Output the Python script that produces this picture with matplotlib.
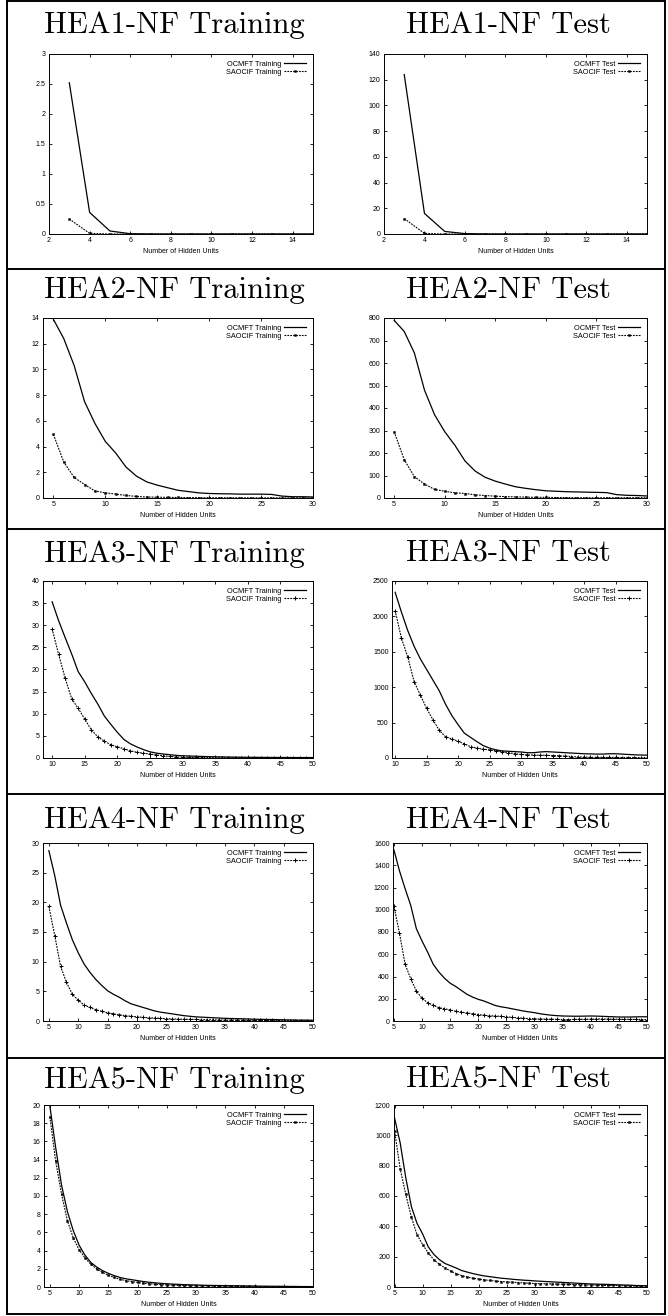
import matplotlib
matplotlib.use("Agg")
import matplotlib.pyplot as plt
from matplotlib.lines import Line2D
from matplotlib.ticker import FormatStrFormatter, MultipleLocator

W, H = 668, 1316

# ---- data ----
x1 = list(range(3, 16))
h1_train_ocmft = [2.52, 0.36, 0.05, 0.005, 0, 0, 0, 0, 0, 0, 0, 0, 0]
h1_train_saocif = [0.25, 0.01, 0, 0, 0, 0, 0, 0, 0, 0, 0, 0, 0]
h1_test_ocmft = [124, 16, 2, 0.3, 0, 0, 0, 0, 0, 0, 0, 0, 0]
h1_test_saocif = [12, 0.5, 0, 0, 0, 0, 0, 0, 0, 0, 0, 0, 0]

x2 = list(range(5, 31))
h2_train_ocmft = [13.9, 12.4, 10.3, 7.5, 5.8, 4.4, 3.5, 2.4, 1.7, 1.25, 1.0, 0.8, 0.6,
                  0.5, 0.4, 0.35, 0.33, 0.32, 0.3, 0.3, 0.3, 0.28, 0.15, 0.1, 0.1, 0.08]
h2_train_saocif = [4.95, 2.8, 1.6, 1.05, 0.55, 0.4, 0.3, 0.2, 0.12, 0.08, 0.06, 0.05, 0.04,
                   0.03, 0.03, 0.02, 0.02, 0.02, 0.02, 0.01, 0.01, 0.01, 0.01, 0.01, 0.01, 0.01]
h2_test_ocmft = [790, 740, 645, 480, 370, 295, 235, 165, 120, 92, 75, 62, 50,
                 43, 37, 32, 30, 28, 27, 26, 25, 24, 15, 12, 11, 9]
h2_test_saocif = [295, 170, 95, 62, 38, 30, 23, 20, 14, 11, 8, 6, 5,
                  4, 3, 3, 2, 2, 1, 1, 1, 1, 1, 1, 1, 1]

x3 = list(range(10, 51))
h3_train_ocmft = [35.3, 31.0, 27.2, 23.5, 19.5, 17.2, 14.6, 12.2, 9.5, 7.6, 5.8, 4.2, 3.2, 2.5,
                  1.9, 1.4, 1.1, 0.9, 0.75, 0.6, 0.5, 0.45, 0.4, 0.35, 0.3, 0.28, 0.25, 0.22,
                  0.2, 0.18, 0.16, 0.15, 0.14, 0.13, 0.12, 0.12, 0.11, 0.1, 0.1, 0.1, 0.1]
h3_train_saocif = [29.2, 23.4, 18.0, 13.4, 11.2, 8.8, 6.4, 4.8, 3.8, 3.0, 2.5, 2.1, 1.6, 1.3,
                   1.1, 0.9, 0.7, 0.5, 0.35, 0.25, 0.2, 0.15, 0.12, 0.1, 0.08, 0.07, 0.06, 0.05,
                   0.05, 0.04, 0.04, 0.03, 0.03, 0.03, 0.03, 0.02, 0.02, 0.02, 0.02, 0.02, 0.02]
h3_test_ocmft = [2340, 2060, 1800, 1580, 1400, 1250, 1100, 950, 760, 600, 470, 350, 290, 230,
                 175, 140, 115, 100, 95, 90, 85, 75, 75, 85, 90, 85, 80, 75,
                 70, 65, 60, 58, 55, 55, 60, 60, 55, 50, 45, 42, 40]
h3_test_saocif = [2080, 1690, 1430, 1080, 890, 700, 540, 390, 300, 270, 235, 200, 160, 140,
                  125, 115, 100, 90, 75, 60, 50, 45, 42, 40, 38, 35, 32, 28,
                  20, 15, 12, 10, 10, 9, 8, 8, 7, 7, 6, 6, 5]

x4 = list(range(5, 51))
h4_train_ocmft = [28.7, 24.5, 19.5, 16.5, 13.7, 11.5, 9.6, 8.2, 7.0, 6.0, 5.1, 4.5, 4.0, 3.4,
                  2.9, 2.6, 2.3, 2.0, 1.7, 1.5, 1.35, 1.2, 1.05, 0.9, 0.8, 0.7, 0.65, 0.6,
                  0.55, 0.5, 0.45, 0.42, 0.4, 0.37, 0.34, 0.3, 0.28, 0.26, 0.24, 0.22, 0.2,
                  0.18, 0.16, 0.15, 0.14, 0.13]
h4_train_saocif = [19.3, 14.4, 9.2, 6.5, 4.5, 3.5, 2.7, 2.3, 1.9, 1.65, 1.4, 1.2, 1.05, 0.9,
                   0.8, 0.7, 0.62, 0.55, 0.5, 0.45, 0.4, 0.35, 0.32, 0.3, 0.28, 0.26, 0.24,
                   0.22, 0.2, 0.18, 0.17, 0.16, 0.15, 0.14, 0.13, 0.12, 0.11, 0.1, 0.09, 0.08,
                   0.08, 0.07, 0.07, 0.06, 0.06, 0.05]
h4_test_ocmft = [1540, 1350, 1190, 1040, 830, 720, 620, 510, 440, 385, 340, 310, 275, 240,
                 215, 195, 180, 160, 140, 128, 120, 110, 100, 90, 82, 75, 65, 58, 52, 48,
                 45, 44, 43, 43, 44, 45, 44, 42, 40, 38, 36, 36, 36, 37, 38, 38]
h4_test_saocif = [1035, 790, 510, 380, 270, 205, 165, 140, 120, 110, 100, 88, 80, 72,
                  65, 58, 52, 48, 45, 42, 38, 33, 28, 25, 22, 20, 18, 17, 16, 15,
                  13, 13, 14, 15, 16, 17, 18, 18, 18, 17, 16, 15, 15, 14, 13, 12]

x5 = list(range(5, 51))
h5_train_ocmft = [19.9, 15.3, 11.2, 8.3, 6.2, 4.6, 3.5, 2.7, 2.2, 1.8, 1.5, 1.25, 1.05, 0.9,
                  0.8, 0.7, 0.6, 0.52, 0.46, 0.4, 0.36, 0.32, 0.29, 0.26, 0.24, 0.22, 0.2,
                  0.18, 0.17, 0.16, 0.15, 0.14, 0.13, 0.12, 0.11, 0.1, 0.09, 0.09, 0.08, 0.08,
                  0.07, 0.06, 0.06, 0.05, 0.05, 0.04]
h5_train_saocif = [18.7, 13.8, 10.2, 7.3, 5.4, 4.1, 3.2, 2.5, 2.0, 1.6, 1.3, 1.05, 0.85, 0.7,
                   0.6, 0.5, 0.42, 0.36, 0.3, 0.26, 0.22, 0.2, 0.18, 0.16, 0.14, 0.13, 0.12,
                   0.11, 0.1, 0.09, 0.08, 0.08, 0.07, 0.07, 0.06, 0.06, 0.05, 0.05, 0.04, 0.04,
                   0.03, 0.03, 0.03, 0.02, 0.02, 0.02]
h5_test_ocmft = [1115, 950, 720, 530, 420, 350, 265, 215, 180, 155, 140, 125, 108, 98,
                 88, 80, 73, 68, 63, 58, 55, 51, 48, 45, 43, 40, 38, 36, 34, 32,
                 30, 28, 26, 24, 22, 20, 19, 18, 17, 16, 14, 13, 12, 10, 9, 8]
h5_test_saocif = [1030, 780, 610, 460, 345, 280, 225, 180, 150, 125, 105, 88, 75, 65,
                  58, 52, 47, 43, 39, 36, 33, 31, 29, 27, 25, 23, 22, 21, 20, 19,
                  18, 17, 16, 15, 14, 13, 12, 11, 10, 10, 9, 8, 7, 6, 6, 5]

# panels: title, x, ocmft, saocif, xlim, ymax, xstep, ystep, legend word, marker
panels = [
    ("HEA1-NF Training", x1, h1_train_ocmft, h1_train_saocif, (2, 15), 3, 2, 0.5, "Training", "s"),
    ("HEA1-NF Test", x1, h1_test_ocmft, h1_test_saocif, (2, 15), 140, 2, 20, "Test", "s"),
    ("HEA2-NF Training", x2, h2_train_ocmft, h2_train_saocif, (4, 30), 14, 5, 2, "Training", "s"),
    ("HEA2-NF Test", x2, h2_test_ocmft, h2_test_saocif, (4, 30), 800, 5, 100, "Test", "s"),
    ("HEA3-NF Training", x3, h3_train_ocmft, h3_train_saocif, (8.6, 50), 40, 5, 5, "Training", "+"),
    ("HEA3-NF Test", x3, h3_test_ocmft, h3_test_saocif, (9.5, 50), 2500, 5, 500, "Test", "+"),
    ("HEA4-NF Training", x4, h4_train_ocmft, h4_train_saocif, (4, 50), 30, 5, 5, "Training", "+"),
    ("HEA4-NF Test", x4, h4_test_ocmft, h4_test_saocif, (4.85, 50), 1600, 5, 200, "Test", "+"),
    ("HEA5-NF Training", x5, h5_train_ocmft, h5_train_saocif, (4, 50), 20, 5, 2, "Training", "s"),
    ("HEA5-NF Test", x5, h5_test_ocmft, h5_test_saocif, (4.9, 50), 1200, 5, 200, "Test", "s"),
]

# axes boxes in pixels (left, top, right, bottom)
boxes = [
    (49, 54, 313, 234), (384, 54, 647, 234),
    (43, 318, 313, 498), (384, 318, 647, 498),
    (43, 581, 313, 758), (392, 581, 647, 758),
    (43, 843, 313, 1021), (393, 843, 647, 1021),
    (44, 1105, 313, 1287), (394, 1105, 647, 1287),
]
title_base = [33, 298, 562, 828, 1088]
title_x = [174, 508]

small = ["Liberation Sans", "DejaVu Sans"]

fig = plt.figure(figsize=(W / 100, H / 100), dpi=100)


def fx(px):
    return px / W


def fy(py):
    return 1 - py / H


for i, (title, xs, oc, sa, xlim, ymax, xstep, ystep, word, mk) in enumerate(panels):
    l, t, r, b = boxes[i]
    ax = fig.add_axes([fx(l), fy(b), fx(r) - fx(l), fy(t) - fy(b)])
    ax.plot(xs, oc, color="black", lw=0.9, label="OCMFT " + word)
    if mk == "+":
        ax.plot(xs, sa, color="black", lw=0.8, ls=(0, (1.6, 1.0)), marker="+",
                ms=3, mew=0.7, label="SAOCIF " + word)
    else:
        ax.plot(xs, sa, color="black", lw=0.8, ls=(0, (1.6, 1.0)), marker="s",
                ms=1.4, mew=0.3, label="SAOCIF " + word)
    ax.set_xlim(*xlim)
    ax.set_ylim(0, ymax)
    ax.xaxis.set_major_locator(MultipleLocator(xstep))
    ax.yaxis.set_major_locator(MultipleLocator(ystep))
    ax.yaxis.set_major_formatter(FormatStrFormatter("%g"))
    ax.tick_params(direction="in", top=True, right=True, length=2.2, width=0.6,
                   labelsize=5, pad=2.5)
    for lab in ax.get_xticklabels() + ax.get_yticklabels():
        lab.set_family(small)
    for s in ax.spines.values():
        s.set_linewidth(0.7)
    ax.set_xlabel("Number of Hidden Units", fontsize=5, family=small, labelpad=2.5)
    leg = ax.legend(loc="upper right", frameon=False, markerfirst=False, numpoints=1,
                    prop={"family": small, "size": 5.3}, handlelength=3.0,
                    handletextpad=0.4, labelspacing=0.15, borderaxespad=0.5)

    fig.text(fx(title_x[i % 2]), fy(title_base[i // 2]), title, family="cmr10",
             fontsize=22, ha="center", va="baseline")

# table frame and row dividers
frame_kw = dict(color="black", lw=1.4, transform=fig.transFigure)
fig.add_artist(Line2D([fx(7), fx(7)], [fy(1), fy(1314)], **frame_kw))
fig.add_artist(Line2D([fx(665), fx(665)], [fy(1), fy(1314)], **frame_kw))
for yy in [1, 269, 529, 794, 1058, 1314]:
    fig.add_artist(Line2D([fx(7), fx(665)], [fy(yy), fy(yy)], **frame_kw))

fig.savefig("out.png", dpi=100)
